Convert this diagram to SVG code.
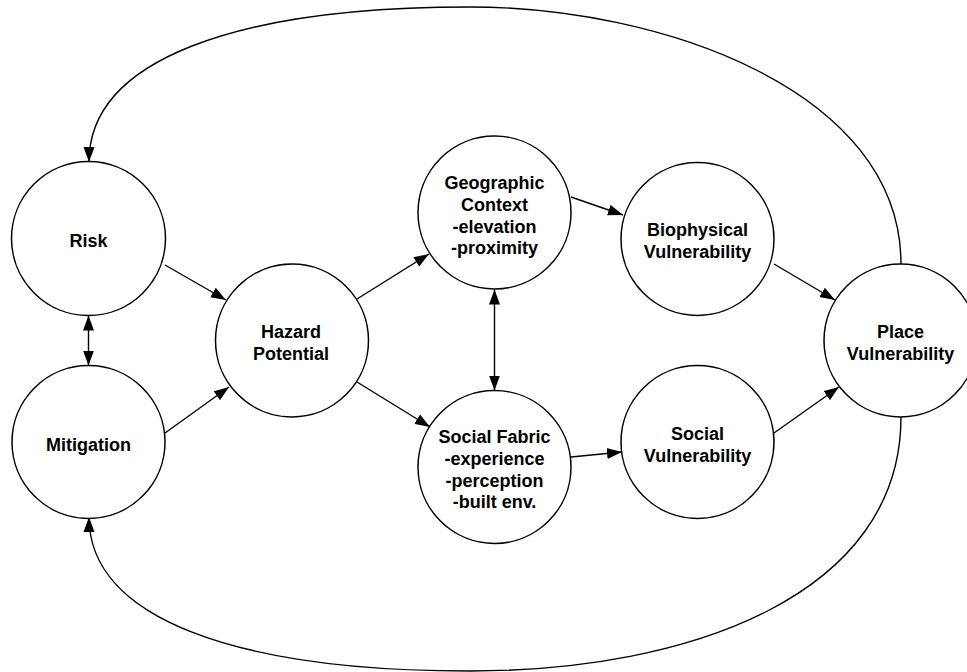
<svg xmlns="http://www.w3.org/2000/svg" width="967" height="672" viewBox="0 0 967 672">
<style>
.node circle{fill:#fff;stroke:#000;stroke-width:1.5}
.node text{font-family:"Liberation Sans",Arial,Helvetica,sans-serif;font-weight:bold;font-size:18px;fill:#000;text-anchor:middle}
.conn path,.conn line{fill:none;stroke:#000;stroke-width:1.4}
</style>
<defs>
<marker id="ah" markerUnits="userSpaceOnUse" markerWidth="16" markerHeight="12" refX="15" refY="5.5" orient="auto-start-reverse" viewBox="0 0 16 11">
<path d="M0,0 L15,5.5 L0,11 z" fill="#000"/>
</marker>
</defs>
<rect width="967" height="672" fill="#fff"/>
<g id="connectors" class="conn">
<path d="M901,264 C901,90 660,7 470,7 C235,7 89,60 89,162" marker-end="url(#ah)"/>
<path d="M901,417 C901,595 690,671 470,671 C235,671 89,618 89,517" marker-end="url(#ah)"/>
<line x1="88.5" y1="315.5" x2="88.5" y2="365.5" marker-start="url(#ah)" marker-end="url(#ah)"/>
<line x1="165" y1="265" x2="226" y2="300" marker-end="url(#ah)"/>
<line x1="165" y1="433" x2="229" y2="387" marker-end="url(#ah)"/>
<line x1="357" y1="299" x2="429" y2="254" marker-end="url(#ah)"/>
<line x1="357" y1="382" x2="430" y2="427" marker-end="url(#ah)"/>
<line x1="494.5" y1="289.5" x2="494.5" y2="390.5" marker-start="url(#ah)" marker-end="url(#ah)"/>
<line x1="571" y1="197" x2="623" y2="215" marker-end="url(#ah)"/>
<line x1="571" y1="457" x2="622" y2="452" marker-end="url(#ah)"/>
<line x1="774" y1="264" x2="835" y2="300" marker-end="url(#ah)"/>
<line x1="774" y1="433" x2="839" y2="387" marker-end="url(#ah)"/>
</g>
<g id="risk" class="node"><circle cx="88.5" cy="238.5" r="77"/><text x="88.5" y="247">Risk</text></g>
<g id="mitigation" class="node"><circle cx="88.5" cy="442" r="76.5"/><text x="88.5" y="451">Mitigation</text></g>
<g id="hazard" class="node"><circle cx="292" cy="340.5" r="76.5"/><text x="291" y="338">Hazard</text><text x="291" y="360">Potential</text></g>
<g id="geographic" class="node"><circle cx="494.5" cy="212.5" r="76.5"/><text x="494.5" y="189">Geographic</text><text x="494.5" y="211">Context</text><text x="494.5" y="233">-elevation</text><text x="494.5" y="254">-proximity</text></g>
<g id="socialfabric" class="node"><circle cx="494.5" cy="467" r="76.5"/><text x="494.5" y="443">Social Fabric</text><text x="494.5" y="465">-experience</text><text x="494.5" y="487">-perception</text><text x="494.5" y="508">-built env.</text></g>
<g id="biophysical" class="node"><circle cx="697.5" cy="239" r="76.5"/><text x="697.5" y="236">Biophysical</text><text x="697.5" y="258">Vulnerability</text></g>
<g id="socialvuln" class="node"><circle cx="697.5" cy="442" r="76.5"/><text x="697.5" y="440">Social</text><text x="697.5" y="462">Vulnerability</text></g>
<g id="place" class="node"><circle cx="900.5" cy="340.5" r="76.5"/><text x="900.5" y="338">Place</text><text x="900.5" y="360">Vulnerability</text></g>
</svg>
